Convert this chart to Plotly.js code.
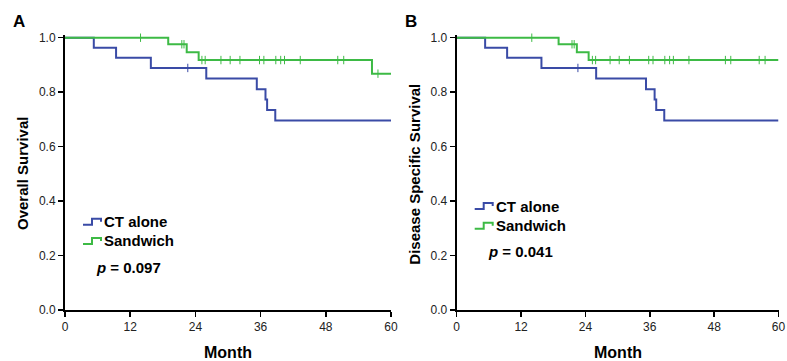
<!DOCTYPE html>
<html>
<head>
<meta charset="utf-8">
<script src="https://cdn.plot.ly/plotly-3.0.1.min.js"></script>
<style>html,body{margin:0;padding:0;background:#fff;}#chart{width:787px;height:361px;}</style>
</head>
<body>
<div id="chart"></div>
<script>
// ---- Data ----
const ctTimes = [0, 5.3, 9.4, 15.8, 26.0, 35.3, 36.9, 37.2, 38.7, 60];
const ctSurv  = [1, 0.963, 0.926, 0.889, 0.850, 0.811, 0.773, 0.735, 0.696, 0.696];
const ctCensor = [22.6];

const sandOSTimes = [0, 19.0, 22.4, 24.6, 56.5, 60];
const sandOSSurv  = [1, 0.976, 0.947, 0.918, 0.868, 0.868];
const sandOSCensor = [13.9, 21.5, 21.9, 25.2, 25.8, 28.7, 30.4, 32.2, 35.8, 36.6, 38.8, 39.7, 40.4, 43.3, 50.2, 51.3, 57.6];

const sandDSSTimes = [0, 19.0, 22.4, 24.6, 60];
const sandDSSSurv  = [1, 0.976, 0.947, 0.918, 0.918];
const sandDSSCensor = [14.0, 21.5, 21.9, 25.3, 25.9, 28.6, 30.3, 32.2, 35.8, 36.6, 38.8, 39.7, 40.4, 43.3, 50.1, 51.1, 56.4, 57.5];

const xTicks = [0, 12, 24, 36, 48, 60];
const yTicks = [0, 0.2, 0.4, 0.6, 0.8, 1.0];
const groupNames = ["CT alone", "Sandwich"];
const pValues = ["0.097", "0.041"];
const panelLabels = ["A", "B"];
const yTitles = ["Overall Survival", "Disease Specific Survival"];

// ---- Styling ----
const BLUE = "#3a4ba6";
const GREEN = "#3dba45";
const FONT = "Arial, 'Liberation Sans', sans-serif";
const W = 787, H = 361;
const px = v => v / W;
const py = v => 1 - v / H;

function stepLookup(times, surv, t) {
  let s = surv[0];
  for (let i = 0; i < times.length; i++) { if (times[i] <= t) s = surv[i]; }
  return s;
}

function kmTraces(times, surv, censor, color, xa, ya) {
  return [
    {x: times, y: surv, mode: "lines", line: {shape: "hv", color: color, width: 2},
     xaxis: xa, yaxis: ya, showlegend: false, hoverinfo: "skip"},
    {x: censor, y: censor.map(t => stepLookup(times, surv, t)), mode: "markers",
     marker: {symbol: "line-ns-open", size: 6, color: color, line: {color: color, width: 1}},
     xaxis: xa, yaxis: ya, showlegend: false, hoverinfo: "skip", cliponaxis: false}
  ];
}

const data = [
  ...kmTraces(ctTimes, ctSurv, ctCensor, BLUE, "x", "y"),
  ...kmTraces(sandOSTimes, sandOSSurv, sandOSCensor, GREEN, "x", "y"),
  ...kmTraces(ctTimes, ctSurv, ctCensor, BLUE, "x2", "y2"),
  ...kmTraces(sandDSSTimes, sandDSSSurv, sandDSSCensor, GREEN, "x2", "y2")
];

function xAxis(domain, anchor) {
  return {domain: domain, anchor: anchor, range: [0, 60], tickvals: xTicks,
    ticks: "outside", ticklen: 5, tickwidth: 1.5, tickcolor: "#000",
    showline: true, linewidth: 2, linecolor: "#000", showgrid: false, zeroline: false,
    ticklabeloverflow: "allow",
    tickfont: {family: FONT, size: 12, color: "#222"}, fixedrange: true};
}
function yAxis(domain, anchor) {
  return {domain: domain, anchor: anchor, range: [0, 1.01], tickvals: yTicks, tickformat: ".1f",
    ticks: "outside", ticklen: 5, tickwidth: 1.5, tickcolor: "#000",
    showline: true, linewidth: 2, linecolor: "#000", showgrid: false, zeroline: false,
    ticklabeloverflow: "allow",
    tickfont: {family: FONT, size: 12, color: "#222"}, fixedrange: true};
}

const yDom = [py(310), py(35)];
const panels = [
  {xl: 65, xr: 391, legY: [221.7, 241, 267.3], xs: "x", ys: "y"},
  {xl: 456.7, xr: 778.5, legY: [206, 225.7, 251.7], xs: "x2", ys: "y2"}
];

const annotations = [];
const shapes = [];
panels.forEach((p, i) => {
  const cx = (p.xl + p.xr) / 2;
  annotations.push({text: "<b>" + panelLabels[i] + "</b>", xref: "paper", yref: "paper",
    x: px(p.xl - 46), y: py(21), showarrow: false, xanchor: "center", yanchor: "middle",
    font: {family: FONT, size: 17, color: "#000"}});
  annotations.push({text: "<b>Month</b>", xref: "paper", yref: "paper",
    x: px(cx), y: py(352), showarrow: false, xanchor: "center", yanchor: "middle",
    font: {family: FONT, size: 16, color: "#000"}});
  annotations.push({text: "<b>" + yTitles[i] + "</b>", xref: "paper", yref: "paper",
    x: px(p.xl - 43), y: py(174), showarrow: false, textangle: -90,
    xanchor: "center", yanchor: "middle",
    font: {family: FONT, size: 15, color: "#000"}});
  // custom legend
  const colors = [BLUE, GREEN];
  for (let k = 0; k < 2; k++) {
    const yc = p.legY[k];
    const x0 = p.xl + 18, x1 = p.xl + 27, x2 = p.xl + 36;
    const yl = yc + 3, yh = yc - 3, ym = yc;
    shapes.push({type: "path", xref: "paper", yref: "paper",
      path: `M ${px(x0)} ${py(yl)} L ${px(x1)} ${py(yl)} L ${px(x1)} ${py(yh)} L ${px(x2)} ${py(yh)} L ${px(x2)} ${py(ym)}`,
      line: {color: colors[k], width: 2}});
    annotations.push({text: "<b>" + groupNames[k] + "</b>", xref: "paper", yref: "paper",
      x: px(p.xl + 37), y: py(yc), showarrow: false, xanchor: "left", yanchor: "middle",
      font: {family: FONT, size: 15, color: "#000"}});
  }
  annotations.push({text: "<b><i>p</i> = " + pValues[i] + "</b>", xref: "paper", yref: "paper",
    x: px(p.xl + 29), y: py(p.legY[2]), showarrow: false, xanchor: "left", yanchor: "middle",
    font: {family: FONT, size: 15, color: "#000"}});
});

const layout = {
  width: W, height: H,
  margin: {l: 0, r: 0, t: 0, b: 0},
  paper_bgcolor: "#fff", plot_bgcolor: "#fff",
  showlegend: false,
  xaxis: xAxis([px(panels[0].xl), px(panels[0].xr)], "y"),
  yaxis: yAxis(yDom, "x"),
  xaxis2: xAxis([px(panels[1].xl), px(panels[1].xr)], "y2"),
  yaxis2: yAxis(yDom, "x2"),
  annotations: annotations,
  shapes: shapes
};

Plotly.newPlot("chart", data, layout, {staticPlot: true});
</script>
</body>
</html>
